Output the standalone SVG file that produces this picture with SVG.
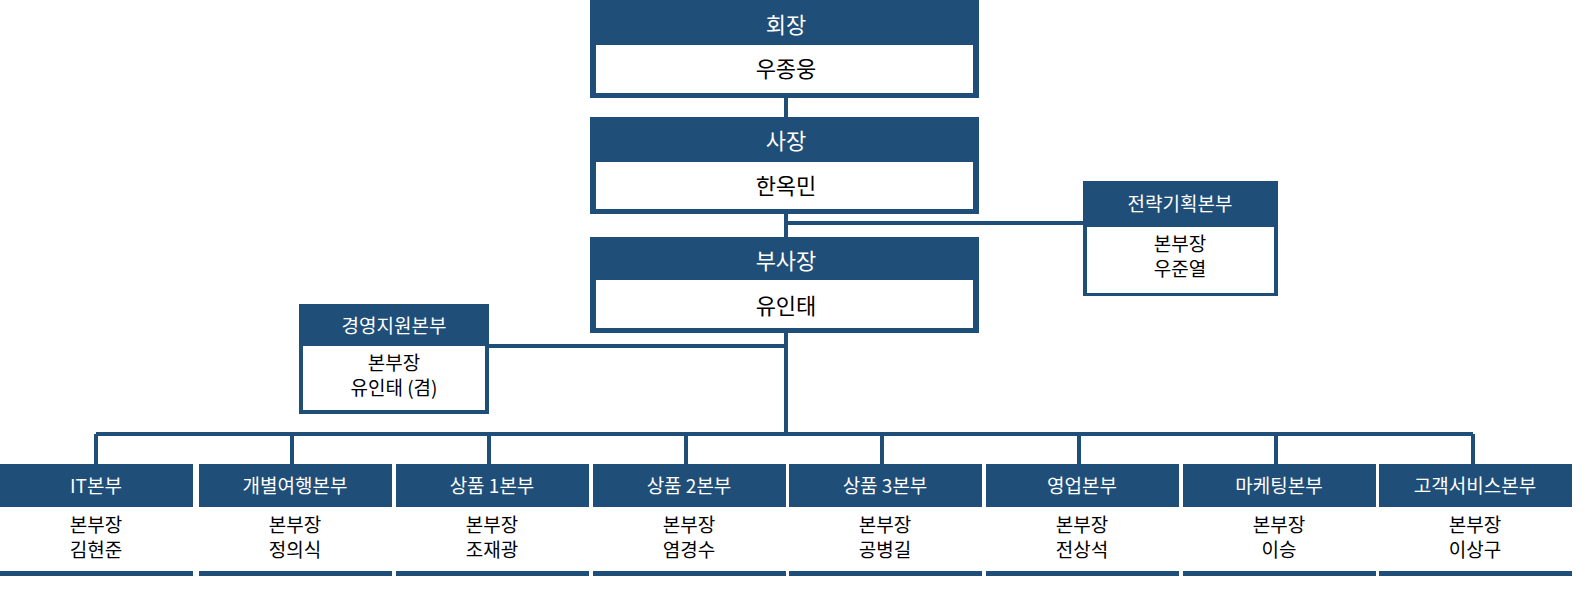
<svg xmlns="http://www.w3.org/2000/svg" width="1587" height="595" viewBox="0 0 1587 595">
<style>
.h{fill:#1f4e79}
.w{fill:#fff}
.ln{stroke:#1f4e79;stroke-width:4;fill:none}
text{font-family:"Noto Sans CJK KR","Liberation Sans",sans-serif;text-anchor:middle}
.ht{fill:#fff;font-size:19px}
.bt{fill:#000;font-size:19px}
.big{font-size:22px}
</style>
<rect width="1587" height="595" fill="#fff"/>
<g id="connectors" class="ln">
<path d="M786 98V117M786 214V237M786 223H1083M786 333V434M489 346H786M96 434H1473"/>
<path d="M96 434V464M292 434V464M489 434V464M686 434V464M882 434V464M1079 434V464M1276 434V464M1473 434V464"/>
</g>
<g id="n1"><rect class="h" x="590" y="0" width="389" height="98"/><rect class="w" x="596" y="45" width="377" height="48"/><text class="ht big" x="786" y="33">회장</text><text class="bt big" x="786" y="77">우종웅</text></g>
<g id="n2"><rect class="h" x="590" y="117" width="389" height="97"/><rect class="w" x="596" y="162" width="377" height="47"/><text class="ht big" x="786" y="149">사장</text><text class="bt big" x="786" y="194">한옥민</text></g>
<g id="n3"><rect class="h" x="590" y="237" width="389" height="96"/><rect class="w" x="596" y="280" width="377" height="48"/><text class="ht big" x="786" y="269">부사장</text><text class="bt big" x="786" y="314">유인태</text></g>
<g id="n4"><rect class="h" x="1083" y="181" width="195" height="115"/><rect class="w" x="1087" y="227" width="187" height="66"/><text class="ht" x="1180" y="211">전략기획본부</text><text class="bt" x="1180" y="251">본부장</text><text class="bt" x="1180" y="276">우준열</text></g>
<g id="n5"><rect class="h" x="299" y="304" width="190" height="110"/><rect class="w" x="303" y="346" width="182" height="64"/><text class="ht" x="394" y="333">경영지원본부</text><text class="bt" x="394" y="370">본부장</text><text class="bt" x="394" y="395">유인태 (겸)</text></g>
<g id="b1"><rect class="h" x="0" y="464" width="193" height="43"/><rect class="h" x="0" y="571" width="193" height="5"/><text class="ht" x="96" y="493">IT본부</text><text class="bt" x="96" y="532">본부장</text><text class="bt" x="96" y="557">김현준</text></g>
<g id="b2"><rect class="h" x="199" y="464" width="193" height="43"/><rect class="h" x="199" y="571" width="193" height="5"/><text class="ht" x="295" y="493">개별여행본부</text><text class="bt" x="295" y="532">본부장</text><text class="bt" x="295" y="557">정의식</text></g>
<g id="b3"><rect class="h" x="396" y="464" width="193" height="43"/><rect class="h" x="396" y="571" width="193" height="5"/><text class="ht" x="492" y="493">상품 1본부</text><text class="bt" x="492" y="532">본부장</text><text class="bt" x="492" y="557">조재광</text></g>
<g id="b4"><rect class="h" x="593" y="464" width="193" height="43"/><rect class="h" x="593" y="571" width="193" height="5"/><text class="ht" x="689" y="493">상품 2본부</text><text class="bt" x="689" y="532">본부장</text><text class="bt" x="689" y="557">염경수</text></g>
<g id="b5"><rect class="h" x="789" y="464" width="193" height="43"/><rect class="h" x="789" y="571" width="193" height="5"/><text class="ht" x="885" y="493">상품 3본부</text><text class="bt" x="885" y="532">본부장</text><text class="bt" x="885" y="557">공병길</text></g>
<g id="b6"><rect class="h" x="986" y="464" width="193" height="43"/><rect class="h" x="986" y="571" width="193" height="5"/><text class="ht" x="1082" y="493">영업본부</text><text class="bt" x="1082" y="532">본부장</text><text class="bt" x="1082" y="557">전상석</text></g>
<g id="b7"><rect class="h" x="1183" y="464" width="193" height="43"/><rect class="h" x="1183" y="571" width="193" height="5"/><text class="ht" x="1279" y="493">마케팅본부</text><text class="bt" x="1279" y="532">본부장</text><text class="bt" x="1279" y="557">이승</text></g>
<g id="b8"><rect class="h" x="1379" y="464" width="193" height="43"/><rect class="h" x="1379" y="571" width="193" height="5"/><text class="ht" x="1475" y="493">고객서비스본부</text><text class="bt" x="1475" y="532">본부장</text><text class="bt" x="1475" y="557">이상구</text></g>
</svg>
